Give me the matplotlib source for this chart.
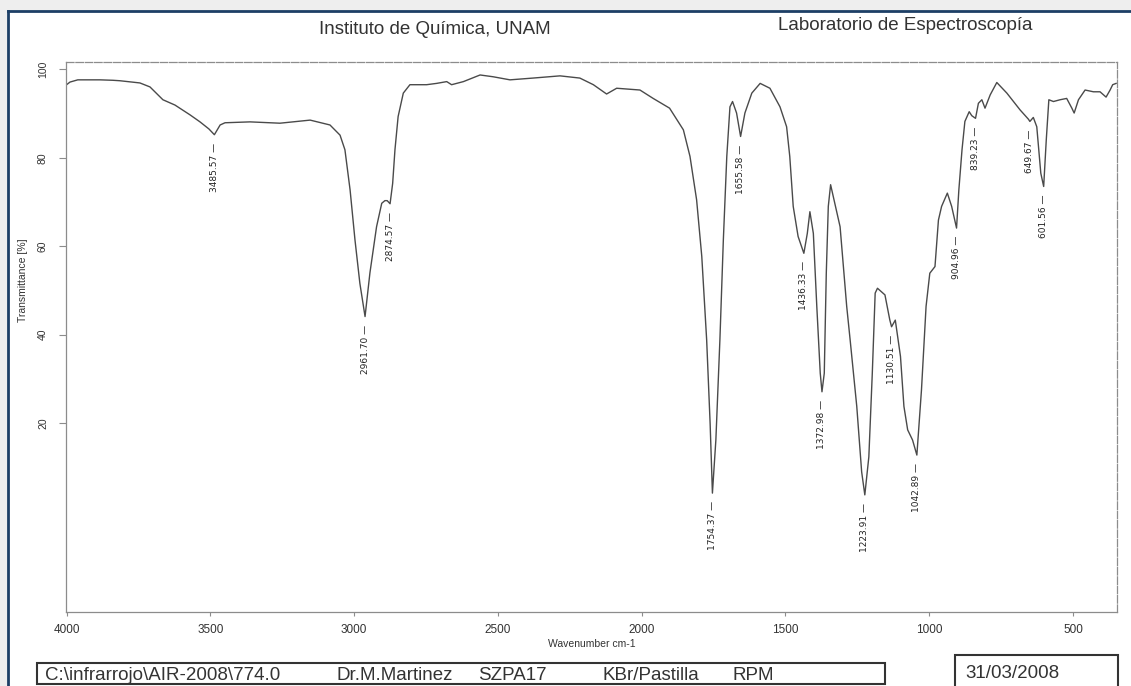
import matplotlib
matplotlib.use("Agg")
import matplotlib.pyplot as plt
from matplotlib.patches import Rectangle
from matplotlib.lines import Line2D

# spectrum (wavenumber cm-1, transmittance %)
wavenumber = [4002, 3988, 3961, 3884, 3839, 3815, 3745, 3710, 3665, 3623, 3571, 3536, 3505,
              3486, 3466, 3449, 3362, 3258, 3153, 3084, 3049, 3032, 3014, 2997, 2980, 2962,
              2945, 2922, 2904, 2893, 2885, 2875, 2866, 2858, 2847, 2829, 2806, 2748, 2713,
              2678, 2661, 2620, 2562, 2517, 2458, 2378, 2284, 2215, 2168, 2122, 2087, 2006,
              1960, 1903, 1855, 1832, 1809, 1791, 1774, 1762, 1754, 1742, 1728, 1716, 1704,
              1693, 1684, 1670, 1656, 1641, 1617, 1588, 1554, 1519, 1496, 1485, 1473, 1456,
              1436, 1424, 1415, 1403, 1391, 1379, 1373, 1365, 1358, 1351, 1343, 1310, 1287,
              1275, 1252, 1235, 1224, 1210, 1198, 1188, 1180, 1154, 1137, 1131, 1118, 1100,
              1088, 1075, 1058, 1043, 1027, 1011, 998, 980, 968, 957, 937, 922, 905, 897,
              886, 876, 861, 852, 839, 829, 817, 806, 788, 765, 730, 707, 684, 655, 650,
              638, 626, 612, 602, 593, 584, 568, 545, 522, 504, 496, 481, 458, 429, 406,
              385, 371, 362, 350]
transmittance = [96.4, 97.1, 97.6, 97.6, 97.5, 97.4, 96.9, 96.0, 93.1, 91.9, 89.7, 88.1, 86.5,
                 85.2, 87.4, 87.9, 88.1, 87.8, 88.5, 87.4, 85.1, 81.8, 72.7, 61.4, 51.6, 44.1,
                 54.0, 64.4, 69.7, 70.3, 70.3, 69.6, 74.2, 81.8, 89.3, 94.6, 96.5, 96.5, 96.8,
                 97.2, 96.5, 97.2, 98.7, 98.3, 97.6, 98.0, 98.5, 98.0, 96.5, 94.4, 95.7, 95.3,
                 93.4, 91.2, 86.3, 80.3, 70.5, 57.7, 38.8, 20.0, 4.2, 16.2, 38.8, 61.4, 80.3,
                 91.5, 92.7, 90.1, 84.8, 90.1, 94.6, 96.8, 95.7, 91.5, 87.0, 80.3, 69.0, 62.2,
                 58.4, 62.9, 67.8, 62.9, 46.4, 31.3, 27.1, 31.3, 53.9, 69.0, 73.9, 64.4, 46.4,
                 38.8, 23.8, 9.0, 3.8, 12.4, 31.3, 49.4, 50.5, 49.0, 43.3, 41.8, 43.3, 35.1,
                 23.8, 18.5, 16.2, 12.8, 27.5, 46.4, 53.9, 55.4, 65.9, 69.0, 72.0, 69.0, 64.1, 72.7,
                 81.8, 88.2, 90.4, 89.5, 88.9, 92.3, 93.1, 91.2, 94.2, 97.0, 94.6, 92.7, 90.8, 88.7, 88.2,
                 89.1, 87.0, 76.5, 73.5, 84.0, 93.1, 92.7, 93.1, 93.4, 91.2, 90.1, 93.1, 95.3, 94.9, 94.9,
                 93.7, 95.3, 96.5, 96.8]

peak_labels = ["3485.57", "2961.70", "2874.57", "1754.37", "1655.58", "1436.33", "1372.98",
               "1223.91", "1130.51", "1042.89", "904.96", "839.23", "649.67", "601.56"]
peak_T = [85.2, 44.1, 69.6, 4.2, 84.8, 58.4, 27.1, 3.8, 41.8, 12.8, 64.1, 88.9, 88.2, 73.5]

x_ticks = [4000, 3500, 3000, 2500, 2000, 1500, 1000, 500]
y_ticks = [20, 40, 60, 80, 100]

ink = "#333333"
sans = ["Liberation Sans", "DejaVu Sans"]
W, H = 1131, 686

fig = plt.figure(figsize=(11.31, 6.86), dpi=100)
fig.patch.set_facecolor("#eeeeee")

# white page with the dark window border on top/left
fig.add_artist(Rectangle((7.5 / W, 0), 1, (H - 10.5) / H, transform=fig.transFigure,
                         facecolor="white", edgecolor="none", zorder=0))
fig.add_artist(Line2D([7.5 / W, 1], [(H - 10.5) / H] * 2, transform=fig.transFigure,
                      color="#1d3f66", lw=2))
fig.add_artist(Line2D([7.5 / W] * 2, [0, (H - 10.5) / H], transform=fig.transFigure,
                      color="#1d3f66", lw=2))

ax = fig.add_axes([66 / W, (H - 611.7) / H, (1117 - 66) / W, (611.7 - 61.7) / H])
ax.set_facecolor("white")
ax.plot(wavenumber, transmittance, color="#4a4a4a", lw=1.0)
ax.set_xlim(4002, 347)
ax.set_ylim(-22.6, 101.7)

for sp in ax.spines.values():
    sp.set_color("#8c8c8c")
    sp.set_linewidth(0.9)
ax.spines["top"].set_linestyle((0, (6, 1.5)))
ax.spines["right"].set_linestyle((0, (6, 1.5)))

ax.set_xticks(x_ticks)
ax.set_xticklabels([str(t) for t in x_ticks], family=sans, fontsize=8.5, color=ink)
ax.set_yticks(y_ticks)
ax.set_yticklabels([str(t) for t in y_ticks], rotation=90, va="center",
                   family=sans, fontsize=7.5, color=ink)
ax.tick_params(axis="x", direction="out", length=3, width=0.8, color="#8c8c8c", pad=6)
ax.tick_params(axis="y", direction="out", length=5, width=0.8, color="#8c8c8c", pad=8)

ax.set_xlabel("Wavenumber cm-1", family=sans, fontsize=7.5, color=ink, labelpad=2)

for lab, t in zip(peak_labels, peak_T):
    ax.text(float(lab), t - 1.8, lab + " \u2014", rotation=90, ha="center", va="top",
            fontsize=6.5, color="#222222", family=["Liberation Sans Narrow", "DejaVu Sans"])

fig.text(23 / W, (H - 280) / H, "Transmittance [%]", rotation=90, ha="center", va="center",
         fontsize=7.5, color=ink, family=sans)

fig.text(435 / W, (H - 30) / H, "Instituto de Química, UNAM", ha="center", va="center",
         fontsize=13.5, color=ink, family=sans)
fig.text(905 / W, (H - 25) / H, "Laboratorio de Espectroscopía", ha="center", va="center",
         fontsize=13.5, color=ink, family=sans)

# footer boxes
fig.add_artist(Rectangle((37 / W, (H - 684) / H), (885 - 37) / W, 21 / H,
                         transform=fig.transFigure, facecolor="none", edgecolor="#333333", lw=1.5))
fig.add_artist(Rectangle((955 / W, -0.02), (1118 - 955) / W, (H - 655) / H + 0.02,
                         transform=fig.transFigure, facecolor="none", edgecolor="#333333", lw=1.5))
footer = [(45, r"C:\infrarrojo\AIR-2008\774.0"), (337, "Dr.M.Martinez"), (478, "SZPA17"),
          (602, "KBr/Pastilla"), (733, "RPM")]
for x, s in footer:
    fig.text(x / W, (H - 676) / H, s, ha="left", va="center", fontsize=13.5, color=ink,
             family=sans)
fig.text(965 / W, (H - 673) / H, "31/03/2008", ha="left", va="center", fontsize=13.5,
         color=ink, family=sans)

fig.savefig("out.png", dpi=100, facecolor=fig.get_facecolor())
